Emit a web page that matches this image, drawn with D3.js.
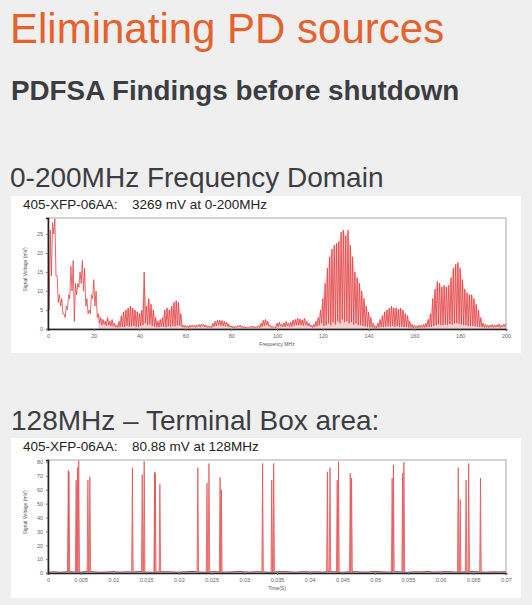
<!DOCTYPE html>
<html>
<head>
<meta charset="utf-8">
<script src="https://cdn.jsdelivr.net/npm/d3@7"></script>
<style>
  html, body { margin: 0; padding: 0; background: #efefef; }
  svg { display: block; font-family: "Liberation Sans", Arial, sans-serif; }
  .tick text { fill: #666; }
</style>
</head>
<body>
<div id="main"></div>
<script>
// --- frequency domain spectrum, one peak + one dip per MHz (0..200) ---
const freqStartMHz = 0;
const freqStepMHz = 1;
const peakMv = [
    6, 26, 28, 29, 14, 9, 8, 4, 6, 9,
    16.5, 18, 12, 12, 15, 18, 16, 8, 5, 9,
    13, 10, 4, 3, 2.5, 2, 3, 2, 2.5, 1.5,
    1, 2, 3.5, 4.5, 5, 5.5, 6, 5.5, 5, 4.5,
    4, 5, 15, 6, 8, 6.5, 5, 3, 2, 2.5,
    3, 5, 5.5, 5, 6, 7, 7.5, 7, 4, 1,
    1, 0.8, 1, 1, 1, 1, 1.2, 1.3, 1.2, 1,
    0.8, 0.8, 1.5, 2, 2.3, 2.3, 2.2, 2, 1.8, 1.2,
    0.8, 0.8, 0.6, 0.9, 1, 0.7, 0.6, 0.5, 0.6, 0.8,
    0.7, 0.6, 0.9, 1.5, 2.3, 2.5, 2, 1, 0.7, 0.6,
    1.5, 1.8, 1.2, 1.6, 2, 1.5, 1.8, 2.3, 2.5, 2.8,
    2.6, 2.4, 2.8, 2, 1.5, 1, 1.2, 2, 3, 5,
    8, 12, 16, 19, 21, 22, 22.5, 23, 25.5, 26,
    24.5, 26, 22, 19, 15, 13.5, 12, 10, 8, 6,
    4.5, 3, 1.5, 0.8, 1.5, 2.5, 3.5, 4.5, 5, 5.5,
    6, 5.5, 5.5, 5.2, 5.5, 5, 4, 3.5, 2, 1.2,
    1, 0.8, 1, 1, 1.2, 1.5, 2.5, 4, 8, 10.5,
    12.5, 12, 11, 11.5, 11, 11.5, 13.5, 16, 17, 17.5,
    16, 13, 10.5, 9.5, 9, 9, 8, 6.5, 5, 3,
    1.5, 1.2, 1, 1, 1.2, 1, 1.1, 1.3, 1, 1.2,
    1.5
];
const dipMv = [
    5, 14, 25, 14, 7, 6, 4, 3, 5, 8,
    10, 2, 9, 11, 12, 10, 6, 4, 4, 8,
    6, 3, 1.5, 1, 1.2, 0.8, 1, 0.8, 0.7, 0.5,
    0.4, 0.5, 0.6, 0.5, 0.8, 0.6, 0.7, 0.8, 0.6, 0.5,
    0.8, 1, 1.5, 1, 1.2, 0.8, 0.6, 0.5, 0.5, 0.6,
    0.6, 0.5, 0.7, 0.6, 0.8, 0.7, 0.9, 0.8, 0.5, 0.4,
    0.4, 0.3, 0.5, 0.5, 0.4, 0.6, 0.5, 0.7, 0.5, 0.4,
    0.3, 0.4, 0.6, 0.8, 1, 0.9, 0.8, 0.7, 0.6, 0.5,
    0.3, 0.3, 0.4, 0.5, 0.3, 0.3, 0.2, 0.3, 0.4, 0.3,
    0.3, 0.4, 0.3, 0.6, 0.8, 1, 0.7, 0.4, 0.3, 0.3,
    0.6, 0.7, 0.5, 0.6, 0.8, 0.6, 0.7, 0.9, 1, 1,
    1, 0.9, 1, 0.8, 0.6, 0.4, 0.5, 0.7, 1, 1.5,
    0.8, 1, 1.5, 1, 1.8, 1.2, 2, 1.5, 2.5, 1.8,
    2, 1.5, 1.8, 1.2, 1.5, 1, 1, 0.8, 0.7, 0.5,
    0.4, 0.4, 0.3, 0.3, 0.4, 0.5, 0.5, 0.6, 0.7, 0.6,
    0.8, 0.6, 0.7, 0.6, 0.6, 0.5, 0.5, 0.4, 0.4, 0.3,
    0.3, 0.3, 0.4, 0.4, 0.4, 0.5, 0.5, 0.6, 0.8, 1,
    1.2, 1, 1, 1.2, 1, 1.3, 1.2, 1.5, 1.5, 1.4,
    1.2, 1, 1, 0.8, 0.8, 0.8, 0.7, 0.6, 0.5, 0.5,
    0.4, 0.4, 0.4, 0.5, 0.4, 0.5, 0.5, 0.4, 0.5, 0.6
];
const freqTicks = [0, 20, 40, 60, 80, 100, 120, 140, 160, 180, 200];
const freqMvTicks = [0, 5, 10, 15, 20, 25];

// --- time domain at 128MHz ---
const pulseTimeS = [
    0.0031, 0.0032, 0.0043, 0.0045, 0.0047, 0.0061, 0.0064,
    0.0129, 0.0144, 0.0147, 0.0163, 0.0164, 0.0171,
    0.0229, 0.0243, 0.0246, 0.0263, 0.0265, 0.0328,
    0.0342, 0.0345, 0.0427, 0.0431, 0.0442, 0.0444, 0.0462, 0.0464,
    0.0526, 0.0528, 0.0542, 0.0544, 0.0627, 0.0630, 0.0639, 0.0643, 0.0661
];
const pulseMv = [
    74, 73, 67, 76, 81, 67, 69.5,
    76, 71, 80.5, 73, 72, 64,
    76, 65, 79, 69, 60, 79,
    67, 79, 73, 76, 67, 80.5, 72, 68.5,
    68.5, 78, 72, 80, 76, 53, 67, 79, 68.5
];
const noiseStepS = 0.001;
const noiseMv = [
    0.6, 0.8, 0.5, 0.9, 0.7, 0.6, 1.0, 0.8, 0.5, 0.7,
    0.9, 0.6, 0.8, 0.7, 1.0, 0.6, 0.5, 0.8, 0.9, 0.7,
    0.6, 0.8, 1.1, 0.7, 0.5, 0.9, 0.8, 0.6, 0.7, 1.0,
    0.8, 0.6, 0.9, 0.7, 0.5, 0.8, 1.0, 0.7, 0.6, 0.9,
    0.7, 0.8, 0.6, 1.0, 0.7, 0.5, 0.8, 0.9, 0.6, 0.7,
    1.0, 0.8, 0.6, 0.9, 0.7, 0.5, 0.8, 0.7, 1.0, 0.6,
    0.8, 0.9, 0.7, 0.6, 0.8, 1.0, 0.7, 0.6, 0.8, 0.7,
    0.9
];
const timeTicks = [0, 0.005, 0.01, 0.015, 0.02, 0.025, 0.03, 0.035,
    0.04, 0.045, 0.05, 0.055, 0.06, 0.065, 0.07];
const timeMvTicks = [0, 10, 20, 30, 40, 50, 60, 70, 80];

const W = 532, H = 605;
const red = '#e24446';

const svg = d3.select('#main').append('svg')
    .attr('width', W)
    .attr('height', H);

// headings
svg.append('text').attr('x', 10).attr('y', 43)
    .attr('font-size', 42).attr('fill', '#e5622d')
    .text('Eliminating PD sources');
svg.append('text').attr('x', 11).attr('y', 100)
    .attr('font-size', 27.8).attr('font-weight', 'bold').attr('fill', '#3b3d43')
    .text('PDFSA Findings before shutdown');
svg.append('text').attr('x', 10).attr('y', 187)
    .attr('font-size', 28).attr('fill', '#3b3d43')
    .text('0-200MHz Frequency Domain');
svg.append('text').attr('x', 11).attr('y', 430)
    .attr('font-size', 28).attr('fill', '#3b3d43')
    .text('128MHz \u2013 Terminal Box area:');

function panel(top, h, left, right) {
    const g = svg.append('g');
    g.append('rect').attr('x', 11).attr('y', top).attr('width', 510).attr('height', h)
        .attr('fill', '#fff');
    g.append('text').attr('x', 23).attr('y', top + 13)
        .attr('font-size', 13.5).attr('fill', '#222').text(left);
    g.append('text').attr('x', 132).attr('y', top + 13)
        .attr('font-size', 13.5).attr('fill', '#222').text(right);
    return g;
}

function axes(g, x, y, xTicks, yTicks, fmt, xTitle, plotTop, plotBottom) {
    g.append('rect')
        .attr('x', 48).attr('y', plotTop)
        .attr('width', 458).attr('height', plotBottom - plotTop)
        .attr('fill', 'none').attr('stroke', '#a8a8a8').attr('stroke-width', 1);

    const xAxis = d3.axisBottom(x).tickValues(xTicks).tickSize(2).tickPadding(3)
        .tickFormat(fmt);
    const yAxis = d3.axisLeft(y).tickValues(yTicks).tickSize(2).tickPadding(3);

    const gx = g.append('g')
        .attr('transform', 'translate(0,' + plotBottom + ')')
        .call(xAxis);
    const gy = g.append('g')
        .attr('transform', 'translate(48,0)')
        .call(yAxis);
    [gx, gy].forEach(a => {
        a.selectAll('text').attr('font-size', 5.5).attr('font-family', '"Liberation Sans", Arial, sans-serif');
        a.selectAll('.tick line').attr('stroke', '#777');
        a.select('.domain').attr('stroke', '#222').attr('stroke-width', 1.6);
    });

    g.append('text').attr('x', 277).attr('y', plotBottom + 17)
        .attr('text-anchor', 'middle').attr('font-size', 5)
        .attr('fill', '#555').text(xTitle);
    g.append('text')
        .attr('transform', 'translate(27,' + ((plotTop + plotBottom) / 2 - 4) + ') rotate(-90)')
        .attr('text-anchor', 'middle').attr('font-size', 5)
        .attr('fill', '#555').text('Signal Voltage (mV)');
}

// ---- top chart ----
const g1 = panel(196, 157, '405-XFP-06AA:', '3269 mV at 0-200MHz');
const x1 = d3.scaleLinear().domain([0, 200]).range([48, 506]);
const y1 = d3.scaleLinear().domain([0, 29.2]).range([329, 218]);

const spectrum = [];
peakMv.forEach((v, i) => {
    const f = freqStartMHz + i * freqStepMHz;
    spectrum.push([f, v]);
    if (i < dipMv.length) spectrum.push([f + freqStepMHz / 2, dipMv[i]]);
});
// the dense stems above ~22 MHz read as a pale fill in the original
const envelope = peakMv
    .map((v, i) => [freqStartMHz + i * freqStepMHz, v])
    .filter(d => d[0] >= 22);

g1.append('path')
    .datum(envelope)
    .attr('fill', '#f7b9b9')
    .attr('fill-opacity', 0.7)
    .attr('d', d3.area().x(d => x1(d[0])).y0(y1(0)).y1(d => y1(d[1])));

g1.append('path')
    .datum(spectrum)
    .attr('fill', 'none')
    .attr('stroke', red)
    .attr('stroke-opacity', 0.8)
    .attr('stroke-width', 1)
    .attr('d', d3.line().x(d => x1(d[0])).y(d => y1(d[1])));

axes(g1, x1, y1, freqTicks, freqMvTicks, d3.format('d'), 'Frequency MHz', 218, 329);

// ---- bottom chart ----
const g2 = panel(438, 160, '405-XFP-06AA:', '80.88 mV at 128MHz');
const x2 = d3.scaleLinear().domain([0, 0.07]).range([48, 506]);
const y2 = d3.scaleLinear().domain([0, 81.5]).range([573, 460]);

g2.append('path')
    .datum(noiseMv)
    .attr('fill', 'none')
    .attr('stroke', '#8a2a2a')
    .attr('stroke-width', 1)
    .attr('d', d3.line().x((d, i) => x2(i * noiseStepS)).y(d => y2(d)));

const halfWidthS = 0.00012;
g2.selectAll('.pulse')
    .data(pulseTimeS.map((t, i) => [t, pulseMv[i]]))
    .enter()
    .append('path')
    .attr('class', 'pulse')
    .attr('fill', '#f3a0a0')
    .attr('stroke', red)
    .attr('stroke-opacity', 0.85)
    .attr('stroke-width', 0.8)
    .attr('d', d => d3.line()([
        [x2(d[0] - halfWidthS), y2(0.7)],
        [x2(d[0]), y2(d[1])],
        [x2(d[0] + halfWidthS), y2(0.7)]
    ]));

axes(g2, x2, y2, timeTicks, timeMvTicks, d => d === 0 ? '0' : d3.format('~g')(d), 'Time(S)', 460, 573);
</script>
</body>
</html>
